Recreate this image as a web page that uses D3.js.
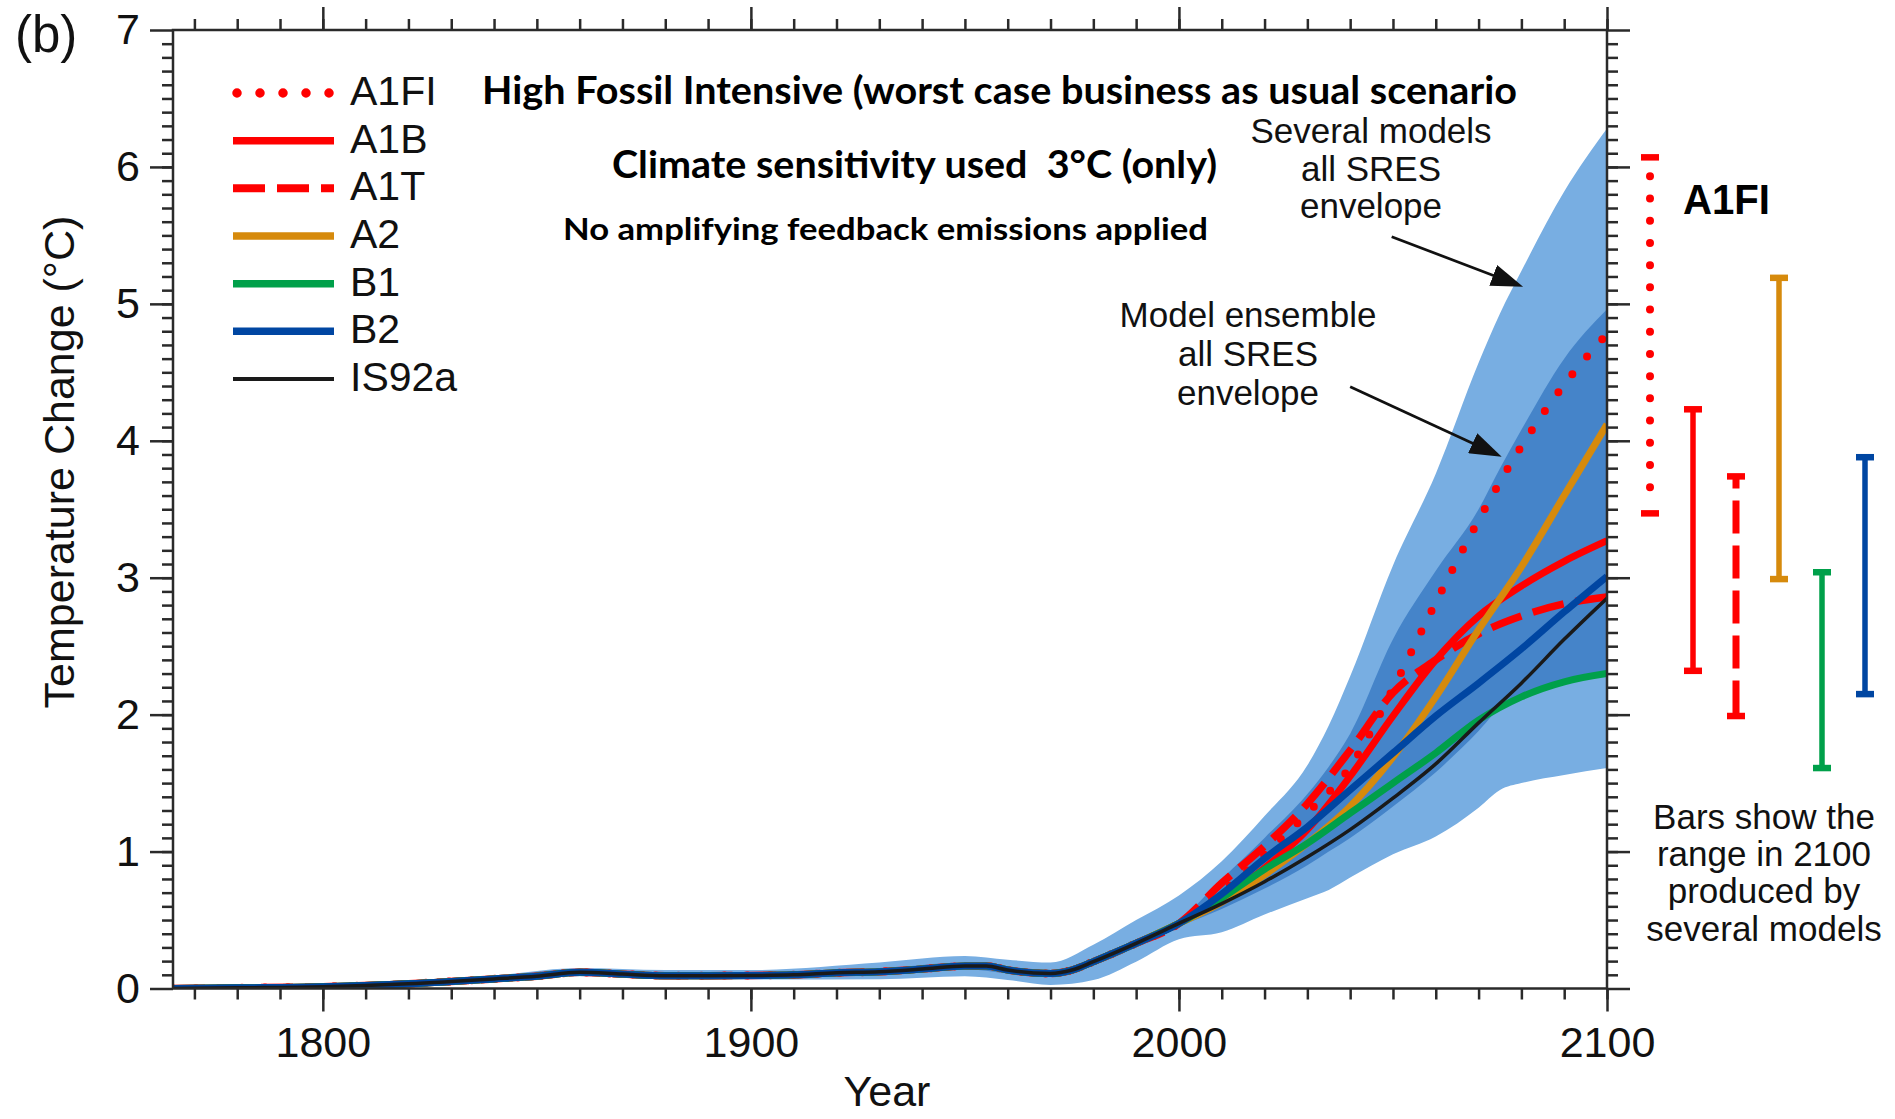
<!DOCTYPE html>
<html>
<head>
<meta charset="utf-8">
<script src="https://cdn.jsdelivr.net/npm/d3@7"></script>
<style>
  body { margin: 0; background: #fff; }
  svg { display: block; }
</style>
</head>
<body>
<script>
// shared history, 1765-1990 (all scenarios sit on top of each other here)
const histYears = [1765, 1780, 1800, 1820, 1840, 1850, 1860, 1870, 1880, 1890, 1900, 1910, 1920, 1930, 1940, 1950, 1955, 1960, 1970, 1975, 1980, 1990];
const histTemp = [0.0, 0.005, 0.013, 0.035, 0.07, 0.09, 0.118, 0.105, 0.094, 0.094, 0.095, 0.1, 0.115, 0.123, 0.142, 0.164, 0.164, 0.135, 0.11, 0.135, 0.196, 0.33];

// scenario projections 2000-2100
const projYears = [2000, 2010, 2020, 2030, 2040, 2050, 2060, 2070, 2080, 2090, 2100];
const a1fi = [0.475, 0.70, 0.98, 1.28, 1.62, 2.19, 2.82, 3.42, 3.96, 4.41, 4.78];
const a1b = [0.475, 0.65, 0.88, 1.16, 1.55, 1.99, 2.40, 2.72, 2.94, 3.12, 3.27];
const a1t = [0.475, 0.77, 1.04, 1.35, 1.74, 2.16, 2.40, 2.59, 2.72, 2.81, 2.86];
const a2 = [0.475, 0.63, 0.83, 1.06, 1.33, 1.69, 2.13, 2.62, 3.08, 3.60, 4.12];
const b1 = [0.475, 0.66, 0.87, 1.06, 1.28, 1.50, 1.72, 1.96, 2.13, 2.24, 2.30];
const b2 = [0.475, 0.69, 0.95, 1.18, 1.45, 1.72, 1.99, 2.23, 2.48, 2.75, 3.01];
const is92a = [0.475, 0.62, 0.78, 0.96, 1.16, 1.39, 1.64, 1.94, 2.23, 2.55, 2.85];

// envelopes
const envYears = [1765, 1800, 1840, 1860, 1880, 1900, 1930, 1950, 1960, 1970, 1980, 1990, 2000, 2010, 2020, 2030, 2035, 2040, 2050, 2060, 2070, 2075, 2080, 2090, 2100];
const severalHi = [0.02, 0.035, 0.095, 0.15, 0.135, 0.135, 0.19, 0.237, 0.21, 0.19, 0.32, 0.50, 0.68, 0.93, 1.26, 1.63, 1.92, 2.28, 3.09, 3.76, 4.57, 4.93, 5.24, 5.82, 6.28];
const severalLo = [-0.02, -0.01, 0.045, 0.09, 0.07, 0.065, 0.067, 0.09, 0.062, 0.026, 0.062, 0.196, 0.36, 0.41, 0.54, 0.66, 0.72, 0.81, 0.98, 1.11, 1.32, 1.45, 1.50, 1.56, 1.61];
const ensembleHi = [0.02, 0.035, 0.09, 0.14, 0.115, 0.115, 0.145, 0.19, 0.16, 0.135, 0.22, 0.36, 0.50, 0.80, 1.10, 1.42, 1.62, 1.86, 2.55, 3.05, 3.50, 3.80, 4.08, 4.60, 4.96];
const ensembleLo = [-0.02, -0.01, 0.05, 0.095, 0.075, 0.075, 0.10, 0.14, 0.11, 0.085, 0.17, 0.30, 0.45, 0.58, 0.73, 0.90, 1.00, 1.10, 1.33, 1.58, 1.88, 2.05, 2.13, 2.24, 2.30];

// range of several models in 2100
const barNames = ["A1FI", "A1B", "A1T", "A2", "B1", "B2"];
const barLow = [3.47, 2.32, 1.99, 2.99, 1.61, 2.15];
const barHigh = [6.07, 4.23, 3.74, 5.19, 3.04, 3.88];

const xTickLabels = [1800, 1900, 2000, 2100];
const yTickLabels = [0, 1, 2, 3, 4, 5, 6, 7];

const sans = "'Liberation Sans', Arial, Helvetica, sans-serif";
const bold = "Lato, 'Liberation Sans', sans-serif";
const axisColor = "#2a2a2a";

const red = "#ff0000";
const styles = {
  A1FI: { color: red, width: 8, dash: "0 23", cap: "round" },
  A1T: { color: red, width: 7.5, dash: "32 12", cap: "butt" },
  A1B: { color: red, width: 7, dash: null, cap: "butt" },
  A2: { color: "#d68a0c", width: 7, dash: null, cap: "butt" },
  B1: { color: "#00a04a", width: 7, dash: null, cap: "butt" },
  B2: { color: "#0046a2", width: 7, dash: null, cap: "butt" },
  IS92a: { color: "#1a1a1a", width: 3.5, dash: null, cap: "butt" },
};

const series = [
  { name: "A1FI", values: a1fi },
  { name: "A1T", values: a1t },
  { name: "A1B", values: a1b },
  { name: "A2", values: a2 },
  { name: "B1", values: b1 },
  { name: "B2", values: b2 },
  { name: "IS92a", values: is92a },
];
const legendOrder = ["A1FI", "A1B", "A1T", "A2", "B1", "B2", "IS92a"];

const plot = { left: 173, right: 1607, top: 30, bottom: 988.5 };

const x = d3.scaleLinear().domain([1765, 2100]).range([plot.left, plot.right]);
const y = d3.scaleLinear().domain([0, 7]).range([plot.bottom, plot.top]);

const svg = d3.select("body").append("svg")
  .attr("width", 1895)
  .attr("height", 1119);

const defs = svg.append("defs");
defs.append("clipPath").attr("id", "plot-clip")
  .append("rect")
  .attr("x", plot.left).attr("y", plot.top)
  .attr("width", plot.right - plot.left)
  .attr("height", plot.bottom - plot.top);

defs.append("marker")
  .attr("id", "arrow")
  .attr("markerUnits", "userSpaceOnUse")
  .attr("viewBox", "0 0 32 22")
  .attr("refX", 10).attr("refY", 11)
  .attr("markerWidth", 32).attr("markerHeight", 22)
  .attr("orient", "auto")
  .append("path")
  .attr("d", "M0,0 L32,11 L0,22 Z")
  .attr("fill", "#111");

const plotArea = svg.append("g").attr("clip-path", "url(#plot-clip)");

// envelopes
const env = envYears.map((yr, i) => ({
  year: yr, lo1: severalLo[i], hi1: severalHi[i], lo2: ensembleLo[i], hi2: ensembleHi[i],
}));

plotArea.append("path")
  .datum(env)
  .attr("fill", "#78aee2")
  .attr("d", d3.area().x(d => x(d.year)).y0(d => y(d.lo1)).y1(d => y(d.hi1)).curve(d3.curveMonotoneX));

plotArea.append("path")
  .datum(env)
  .attr("fill", "#4584c9")
  .attr("d", d3.area().x(d => x(d.year)).y0(d => y(d.lo2)).y1(d => y(d.hi2)).curve(d3.curveMonotoneX));

// scenario lines
const line = d3.line().x(d => x(d[0])).y(d => y(d[1])).curve(d3.curveMonotoneX);
const hist = histYears.map((yr, i) => [yr, histTemp[i]]);

series.forEach(s => {
  const st = styles[s.name];
  const pts = hist.concat(projYears.map((yr, i) => [yr, s.values[i]]));
  plotArea.append("path")
    .datum(pts)
    .attr("fill", "none")
    .attr("stroke", st.color)
    .attr("stroke-width", st.width)
    .attr("stroke-linecap", st.cap)
    .attr("stroke-linejoin", "round")
    .attr("stroke-dasharray", st.dash)
    .attr("d", line);
});

// axes
function styleAxis(g, labels) {
  g.select(".domain").remove();
  g.selectAll(".tick line").attr("stroke", axisColor).attr("stroke-width", 2.5);
  g.attr("font-family", sans).attr("font-size", 43);
  g.selectAll(".tick text").attr("fill", "#111");
  if (!labels) g.selectAll(".tick text").remove();
}

const xMinor = d3.range(1770, 2101, 10);
const yMinor = d3.range(1, 70).map(i => i / 10);

svg.append("g").attr("transform", `translate(0,${plot.bottom})`)
  .call(d3.axisBottom(x).tickValues(xMinor).tickSize(11))
  .call(g => styleAxis(g, false));
svg.append("g").attr("transform", `translate(0,${plot.bottom})`)
  .call(d3.axisBottom(x).tickValues(xTickLabels).tickSize(23).tickPadding(15).tickFormat(d3.format("d")))
  .call(g => styleAxis(g, true));
svg.append("g").attr("transform", `translate(0,${plot.top})`)
  .call(d3.axisTop(x).tickValues(xMinor).tickSize(11))
  .call(g => styleAxis(g, false));
svg.append("g").attr("transform", `translate(0,${plot.top})`)
  .call(d3.axisTop(x).tickValues(xTickLabels).tickSize(23))
  .call(g => styleAxis(g, false));

svg.append("g").attr("transform", `translate(${plot.left},0)`)
  .call(d3.axisLeft(y).tickValues(yMinor).tickSize(11))
  .call(g => styleAxis(g, false));
svg.append("g").attr("transform", `translate(${plot.left},0)`)
  .call(d3.axisLeft(y).tickValues(yTickLabels).tickSize(23).tickPadding(10).tickFormat(d3.format("d")))
  .call(g => styleAxis(g, true));
svg.append("g").attr("transform", `translate(${plot.right},0)`)
  .call(d3.axisRight(y).tickValues(yMinor).tickSize(11))
  .call(g => styleAxis(g, false));
svg.append("g").attr("transform", `translate(${plot.right},0)`)
  .call(d3.axisRight(y).tickValues(yTickLabels).tickSize(23))
  .call(g => styleAxis(g, false));

svg.append("rect")
  .attr("x", plot.left).attr("y", plot.top)
  .attr("width", plot.right - plot.left)
  .attr("height", plot.bottom - plot.top)
  .attr("fill", "none")
  .attr("stroke", axisColor)
  .attr("stroke-width", 2.5);

// axis titles
svg.append("text")
  .attr("x", 887)
  .attr("y", 1106)
  .attr("text-anchor", "middle")
  .attr("font-family", sans).attr("font-size", 43).attr("fill", "#111")
  .text("Year");

svg.append("text")
  .attr("transform", "translate(74,462) rotate(-90)")
  .attr("text-anchor", "middle")
  .attr("font-family", sans).attr("font-size", 43).attr("fill", "#111")
  .text("Temperature Change (°C)");

svg.append("text")
  .attr("x", 15).attr("y", 52)
  .attr("font-family", sans).attr("font-size", 51).attr("fill", "#111")
  .text("(b)");

// legend
const legendY = d3.scalePoint().domain(legendOrder).range([93, 379]);
const legend = svg.append("g");
legendOrder.forEach(name => {
  const st = styles[name];
  const ly = legendY(name);
  legend.append("line")
    .attr("x1", name === "A1FI" ? 237 : 233).attr("x2", 334)
    .attr("y1", ly).attr("y2", ly)
    .attr("stroke", st.color)
    .attr("stroke-width", name === "A1FI" ? 9.5 : st.width + 0.5)
    .attr("stroke-linecap", st.cap)
    .attr("stroke-dasharray", st.dash);
  legend.append("text")
    .attr("x", 350).attr("y", ly + 12)
    .attr("font-family", sans).attr("font-size", 41).attr("fill", "#111")
    .text(name);
});

// bold heading lines
const heading = [
  { text: "High Fossil Intensive (worst case business as usual scenario", x: 482, y: 104, size: 39, len: 1035 },
  { text: "Climate sensitivity used  3°C (only)", x: 612, y: 178, size: 38, len: 605 },
  { text: "No amplifying feedback emissions applied", x: 563, y: 240, size: 31, len: 645 },
];
heading.forEach(h => {
  svg.append("text")
    .attr("x", h.x).attr("y", h.y)
    .attr("font-family", bold).attr("font-weight", 700)
    .attr("font-size", h.size).attr("fill", "#000")
    .attr("textLength", h.len).attr("lengthAdjust", "spacingAndGlyphs")
    .attr("xml:space", "preserve")
    .text(h.text);
});

// annotations with arrows
function multiline(lines, cx, y0, dy) {
  lines.forEach((t, i) => {
    svg.append("text")
      .attr("x", cx).attr("y", y0 + i * dy)
      .attr("text-anchor", "middle")
      .attr("font-family", sans).attr("font-size", 35).attr("fill", "#111")
      .text(t);
  });
}
multiline(["Several models", "all SRES", "envelope"], 1371, 143, 37.7);
multiline(["Model ensemble", "all SRES", "envelope"], 1248, 327, 39);
multiline(["Bars show the", "range in 2100", "produced by", "several models"], 1764, 829, 37.2);

function arrow(x0, y0, x1, y1) {
  const px0 = x(x0), py0 = y(y0), px1 = x(x1), py1 = y(y1);
  const len = Math.hypot(px1 - px0, py1 - py0);
  const ux = (px1 - px0) / len, uy = (py1 - py0) / len;
  svg.append("line")
    .attr("x1", px0).attr("y1", py0)
    .attr("x2", px1 - ux * 22).attr("y2", py1 - uy * 22)
    .attr("stroke", "#111").attr("stroke-width", 2.7)
    .attr("marker-end", "url(#arrow)");
}
arrow(2049.7, 5.49, 2080.4, 5.125);
arrow(2040.0, 4.395, 2075.4, 3.884);

// 2100 range bars
const bx = d3.scalePoint().domain(barNames).range([1650, 1865]);
barNames.forEach((name, i) => {
  const st = styles[name];
  const cx = bx(name);
  const top = y(barHigh[i]), bot = y(barLow[i]);
  const g = svg.append("g").attr("stroke", st.color);
  if (name === "A1FI") {
    g.append("line").attr("x1", cx).attr("x2", cx)
      .attr("y1", top + 19).attr("y2", bot - 8)
      .attr("stroke-width", 8).attr("stroke-linecap", "round")
      .attr("stroke-dasharray", "0 22.2");
  } else if (name === "A1T") {
    g.append("line").attr("x1", cx).attr("x2", cx)
      .attr("y1", top).attr("y2", bot)
      .attr("stroke-width", 7).attr("stroke-dasharray", "12 12 33 12 33 12 33 12 33 12 33 12 33 12 33 12 33 12 33 12");
  } else {
    g.append("line").attr("x1", cx).attr("x2", cx)
      .attr("y1", top).attr("y2", bot)
      .attr("stroke-width", 5.5);
  }
  [top, bot].forEach(cy => {
    g.append("line")
      .attr("x1", cx - 9).attr("x2", cx + 9)
      .attr("y1", cy).attr("y2", cy)
      .attr("stroke-width", 6.5);
  });
});

svg.append("text")
  .attr("x", 1683).attr("y", 214)
  .attr("font-family", sans).attr("font-weight", 700)
  .attr("font-size", 42).attr("fill", "#000")
  .attr("textLength", 87).attr("lengthAdjust", "spacingAndGlyphs")
  .text("A1FI");
</script>
</body>
</html>
